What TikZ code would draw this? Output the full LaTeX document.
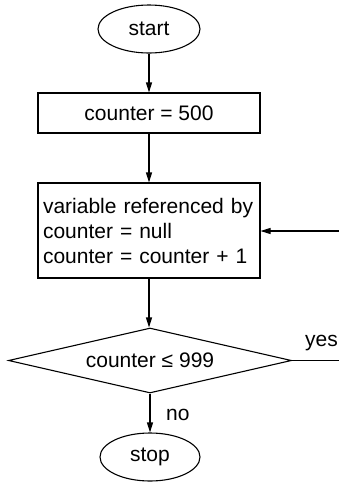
\documentclass[tikz,border=0pt]{standalone}
\usepackage{fontspec}
\setmainfont{Liberation Sans}
\usetikzlibrary{shapes.geometric,arrows.meta}
\begin{document}
\begin{tikzpicture}[x=1pt,y=-1pt,
  every node/.style={font=\fontsize{21}{25}\selectfont},
  line/.style={draw=black,line width=1.1pt},
  arr/.style={line,-{Triangle[length=10pt,width=6pt]}},
  term/.style={ellipse,line,inner sep=0pt,minimum width=102pt,minimum height=48pt},
  proc/.style={rectangle,line,inner sep=5pt,minimum width=222pt},
  dec/.style={diamond,line,inner sep=0pt,aspect=4.35,minimum width=283pt,minimum height=65pt},
  lbl/.style={inner sep=0pt}]
\useasboundingbox (0,0) rectangle (339,483);
\node[term] (start) at (149,29) {start};
\node[proc,minimum height=40pt] (init) at (149,113) {counter = 500};
\node[proc,minimum height=95pt,align=left,text width=212pt] (body) at (149,230.5)
  {variable referenced by\\counter = null\\counter = counter + 1};
\node[dec] (test) at (150,360.5) {counter ≤ 999};
\node[term,minimum width=100pt] (stop) at (150,457) {stop};
\coordinate (c1) at (339.2,360.5);
\coordinate (c2) at (339.2,231);
\draw[arr] (start) -- (init);
\draw[arr] (init) -- (body);
\draw[arr] (body.south) -- (body.south |- test.north);
\draw[arr] (test.south) -- (test.south |- stop.north);
\draw[line] (test.east) -- (c1) -- (c2);
\draw[arr] (c2) -- (body.east |- c2);
\node[lbl,anchor=west] (yes) at (305,343) {yes};
\node[lbl,anchor=west] (no) at (166,415) {no};
\end{tikzpicture}
\end{document}
